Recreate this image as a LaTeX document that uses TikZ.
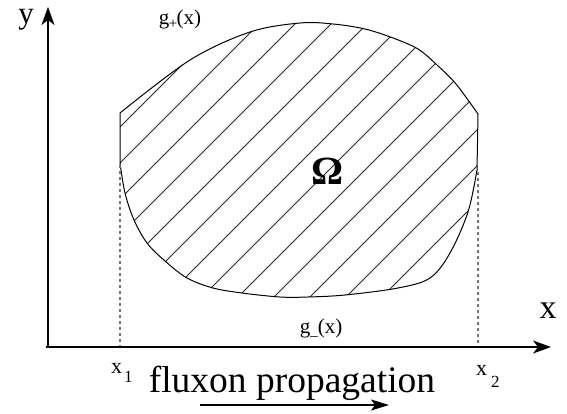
\documentclass[tikz,border=0pt]{standalone}
\usepackage{fontspec}
\setmainfont{Liberation Serif}
\usetikzlibrary{arrows.meta}
\tikzset{
  axis/.style={line width=1.6pt,-{Stealth[length=18pt,width=13pt,inset=5pt]}},
  proparrow/.style={line width=1.3pt,-{Stealth[length=18pt,width=11pt,inset=4pt]}},
  boundary/.style={line width=1pt,black},
  hatch/.style={line width=0.75pt,black!85},
  guide/.style={line width=1.1pt,black!55,dash pattern=on 3pt off 3pt},
  lbl/.style={inner sep=0pt,outer sep=0pt}
}
\newcommand{\fs}[1]{\fontsize{#1}{#1}\selectfont}
\def\regionpath{(120,113) -- (120,163)
  -- plot[smooth,tension=0.55] coordinates {(120,163) (125,193) (134,220) (147,243) (165,261) (187,278) (213,288) (242,293) (280,297) (308,297) (345,295) (398,288) (430,278) (450,253) (468,212) (477,170)}
  -- (478,114)
  -- plot[smooth,tension=0.55] coordinates {(478,114) (456,84) (437,65) (418,49) (393,38) (365,29) (333,24) (300,23) (250,32) (190,60) (120,113)}
  -- cycle}
\begin{document}
\begin{tikzpicture}[x=1pt,y=-1pt]
\useasboundingbox (0,0) rectangle (567,414);
% hatching
\begin{scope}
  \clip \regionpath;
  \foreach \c in {247,283,...,700}{
    \draw[hatch] (\c,0) -- (\c-420,420);
  }
\end{scope}
\draw[boundary] \regionpath;
% coordinates
\coordinate (O) at (48,347);
\coordinate (ytip) at (48,7);
\coordinate (xstart) at (46,347);
\coordinate (xtip) at (551,347);
\coordinate (d1top) at (120,165);
\coordinate (d1bot) at (120,347);
\coordinate (d2top) at (478,172);
\coordinate (d2bot) at (478,347);
\coordinate (pa) at (200,405);
\coordinate (pb) at (389,405);
% guides
\draw[guide] (d1top) -- (d1bot);
\draw[guide] (d2top) -- (d2bot);
% axes
\draw[axis] (O) -- (ytip);
\draw[axis] (xstart) -- (xtip);
% labels
\node[lbl] (ylab) at (26,20) {\fs{31}y};
\node[lbl] (xlab) at (548,311) {\fs{34}x};
\node[lbl] (omega) at (328,171) {\fs{40}\bfseries Ω};
\node[lbl,anchor=base] (gplus) at (180,25) {\fs{21}g\hspace{-0.5pt}\raisebox{-4pt}{\fs{15}+}\hspace{-0.5pt}(x)};
\node[lbl,anchor=base] (gminus) at (321,333) {\fs{21}g\raisebox{-2pt}{\fs{15}\_}(x)};
\node[lbl,anchor=base west] (x1) at (111,373) {\fs{22}x\hspace{2pt}\raisebox{-9pt}{\fs{17}1}};
\node[lbl,anchor=base west] (x2) at (476,375) {\fs{22}x\hspace{4pt}\raisebox{-12pt}{\fs{17}2}};
\node[lbl,anchor=base] (flux) at (292,392) {\fs{37.5}fluxon propagation};
\draw[proparrow] (pa) -- (pb);
\end{tikzpicture}
\end{document}
